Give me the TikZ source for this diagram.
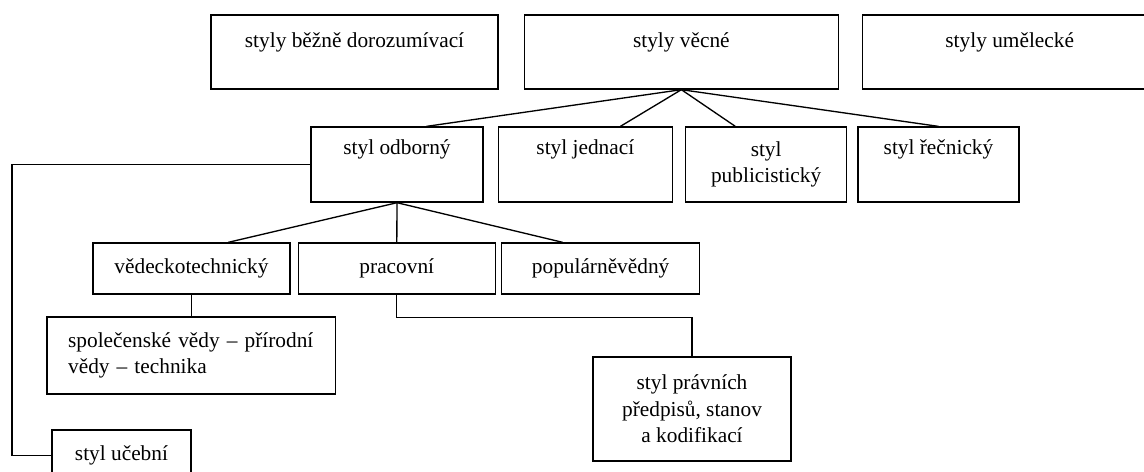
\documentclass[tikz,border=0pt]{standalone}
\usepackage{fontspec}
\setmainfont{Liberation Serif}
\usetikzlibrary{positioning,calc}
\tikzset{
    stylbox/.style={draw, line width=1pt, align=center, inner sep=2pt,
        font=\fontsize{16}{20}\selectfont},
    topbox/.style={stylbox, minimum height=55.5pt},
    tallbox/.style={stylbox, minimum height=56.25pt},
    lowbox/.style={stylbox, minimum height=38.25pt},
    treeline/.style={line width=1pt}
}

\begin{document}
\begin{tikzpicture}
\useasboundingbox (0,0) rectangle (858pt,-353.25pt);
\clip (0,0) rectangle (858pt,-353.25pt);
% top row
\node[topbox, minimum width=215.25pt] (bezne) at (265.9pt,-39pt) {styly běžně dorozumívací\\[-7.5pt]\strut};
\node[topbox, minimum width=235.5pt, right=18.75pt of bezne] (vecne) {styly věcné\\[-7.5pt]\strut};
\node[topbox, minimum width=220.5pt, right=17.25pt of vecne] (umelecke) {styly umělecké\\[-7.5pt]\strut};
% second row
\node[tallbox, minimum width=129pt] (odborny) at (297.75pt,-123.4pt) {styl odborný\\\strut};
\node[tallbox, minimum width=130.5pt, right=10.5pt of odborny] (jednaci) {styl jednací\\\strut};
\node[tallbox, minimum width=120.75pt, right=9pt of jednaci] (publicisticky) {styl\\publicistický};
\node[tallbox, minimum width=120.75pt, right=7.5pt of publicisticky] (recnicky) {styl řečnický\\\strut};
% third row
\node[lowbox, minimum width=147.75pt] (vedecko) at (143.6pt,-201.4pt) {vědeckotechnický};
\node[lowbox, minimum width=147.75pt, right=5.25pt of vedecko] (pracovni) {pracovní};
\node[lowbox, minimum width=148.5pt, right=3.75pt of pracovni] (popular) {populárněvědný};
% bottom
\node[stylbox, align=left, inner xsep=15.75pt, text width=185pt, minimum height=57.75pt] (spolecenske) at (143.6pt,-266.6pt) {společenské vědy – přírodní\\vědy – technika};
\node[stylbox, minimum width=148.5pt, minimum height=78pt] (pravni) at (519pt,-306.75pt) {styl právních\\předpisů, stanov\\a kodifikací};
\node[lowbox, minimum width=104.25pt] (ucebni) at (91.1pt,-341.6pt) {styl učební};

\draw[treeline] (vecne.south) -- ($(odborny.north west)!0.67!(odborny.north east)$);
\draw[treeline] (vecne.south) -- ($(jednaci.north west)!0.7!(jednaci.north east)$);
\draw[treeline] (vecne.south) -- ($(publicisticky.north west)!0.31!(publicisticky.north east)$);
\draw[treeline] (vecne.south) -- (recnicky.north);
\draw[treeline] (odborny.south) -- ($(vedecko.north west)!0.685!(vedecko.north east)$);
\draw[treeline] (odborny.south) -- (pracovni.north);
\draw[treeline] (odborny.south) -- ($(popular.north west)!0.31!(popular.north east)$);
\draw[treeline] (vedecko) -- (spolecenske);
\draw[treeline] (pracovni.south) -- ++(0,-17.25pt) -| (pravni.north);
\draw[treeline] (odborny.west) -- ++(-223.8pt,0) |- (ucebni.west);
\end{tikzpicture}
\end{document}
